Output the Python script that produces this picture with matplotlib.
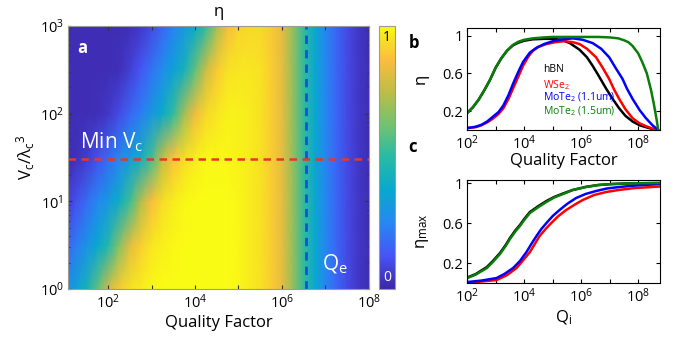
import numpy as np
import matplotlib.pyplot as plt
from matplotlib.colors import LinearSegmentedColormap
from matplotlib.ticker import FixedLocator, LogLocator, NullFormatter

plt.rcParams['font.family'] = ['Open Sans', 'DejaVu Sans']
plt.rcParams['mathtext.fontset'] = 'custom'
plt.rcParams['mathtext.rm'] = 'Open Sans'
plt.rcParams['mathtext.it'] = 'Open Sans:italic'
plt.rcParams['mathtext.bf'] = 'Open Sans:bold'
plt.rcParams['mathtext.default'] = 'regular'

# ---------------------------------------------------
# Data
# ---------------------------------------------------

# heat map a: columns are log10(Q), rows are log10(V)
logq_cols = [1.0, 1.25, 1.5, 1.75, 2.0, 2.25, 2.5, 2.75, 3.0, 3.25, 3.5, 3.75,
             4.0, 4.25, 4.5, 4.75, 5.0, 5.25, 5.5, 5.75, 6.0, 6.25, 6.5, 6.75,
             7.0, 7.25, 7.5, 7.75, 8.0]
logv_rows = [0.0, 0.5, 1.0, 1.5, 2.0, 2.5, 3.0]

eta_v1 = [0.27, 0.35, 0.44, 0.59, 0.78, 0.90, 0.95, 0.97, 0.99, 1.0, 1.0, 1.0,
          1.0, 1.0, 1.0, 1.0, 0.99, 0.97, 0.95, 0.91, 0.83, 0.68, 0.52, 0.38,
          0.25, 0.17, 0.10, 0.05, 0.02]
eta_v3 = [0.15, 0.22, 0.29, 0.37, 0.48, 0.65, 0.82, 0.91, 0.96, 0.98, 0.99, 1.0,
          1.0, 1.0, 1.0, 1.0, 0.99, 0.97, 0.95, 0.91, 0.83, 0.68, 0.52, 0.38,
          0.25, 0.17, 0.10, 0.05, 0.02]
eta_v10 = [0.05, 0.11, 0.18, 0.25, 0.32, 0.40, 0.54, 0.73, 0.87, 0.94, 0.97, 0.99,
           1.0, 1.0, 1.0, 1.0, 0.99, 0.97, 0.95, 0.91, 0.83, 0.68, 0.52, 0.38,
           0.25, 0.17, 0.10, 0.05, 0.02]
eta_v30 = [0.02, 0.03, 0.06, 0.11, 0.18, 0.25, 0.33, 0.41, 0.55, 0.75, 0.88, 0.94,
           0.97, 0.99, 0.99, 0.99, 0.98, 0.97, 0.95, 0.91, 0.83, 0.68, 0.52, 0.38,
           0.25, 0.17, 0.10, 0.05, 0.02]
eta_v100 = [0.02, 0.02, 0.02, 0.03, 0.05, 0.10, 0.17, 0.23, 0.31, 0.39, 0.52, 0.70,
            0.85, 0.93, 0.96, 0.98, 0.98, 0.97, 0.95, 0.91, 0.83, 0.68, 0.52, 0.38,
            0.25, 0.17, 0.10, 0.05, 0.02]
eta_v300 = [0.02, 0.02, 0.02, 0.02, 0.02, 0.03, 0.07, 0.13, 0.20, 0.27, 0.35, 0.44,
            0.59, 0.78, 0.90, 0.95, 0.96, 0.96, 0.95, 0.91, 0.83, 0.68, 0.52, 0.38,
            0.25, 0.17, 0.10, 0.05, 0.02]
eta_v1000 = [0.02, 0.02, 0.02, 0.02, 0.02, 0.02, 0.03, 0.05, 0.10, 0.17, 0.24, 0.31,
             0.39, 0.52, 0.71, 0.86, 0.92, 0.93, 0.93, 0.90, 0.83, 0.68, 0.52, 0.38,
             0.25, 0.17, 0.10, 0.05, 0.02]

q_e = 3.6e6
min_vc = 30

# panel b: efficiency vs quality factor (log10 Q, eta)
hbn_b_logq = [2.0, 2.2, 2.4, 2.6, 2.8, 3.0, 3.2, 3.4, 3.6, 3.8, 4.0, 4.3, 4.7, 5.0,
              5.3, 5.6, 5.94, 6.2, 6.4, 6.6, 6.87, 7.1, 7.33, 7.55, 7.8, 8.05,
              8.27, 8.5, 8.7]
hbn_b = [0.18, 0.24, 0.32, 0.42, 0.53, 0.66, 0.76, 0.84, 0.895, 0.925, 0.945, 0.96,
         0.965, 0.965, 0.955, 0.92, 0.85, 0.77, 0.68, 0.58, 0.44, 0.33, 0.23, 0.15,
         0.09, 0.05, 0.03, 0.01, 0.0]
wse2_b_logq = [2.0, 2.3, 2.5, 2.7, 2.9, 3.1, 3.27, 3.45, 3.61, 3.8, 3.96, 4.15, 4.31,
               4.5, 4.78, 5.1, 5.4, 5.7, 5.94, 6.2, 6.52, 6.75, 6.98, 7.15, 7.33,
               7.55, 7.8, 8.05, 8.27, 8.5, 8.7]
wse2_b = [0.02, 0.03, 0.05, 0.08, 0.12, 0.17, 0.23, 0.33, 0.44, 0.57, 0.68, 0.78,
          0.84, 0.88, 0.91, 0.93, 0.94, 0.93, 0.91, 0.86, 0.77, 0.66, 0.54, 0.43,
          0.33, 0.22, 0.125, 0.07, 0.04, 0.015, 0.0]
mote11_b_logq = [2.0, 2.3, 2.5, 2.7, 2.9, 3.1, 3.27, 3.45, 3.61, 3.8, 3.96, 4.2, 4.43,
                 4.7, 5.0, 5.35, 5.71, 6.05, 6.4, 6.7, 6.98, 7.2, 7.45, 7.6, 7.8,
                 8.05, 8.27, 8.5, 8.7]
mote11_b = [0.02, 0.035, 0.055, 0.09, 0.14, 0.19, 0.26, 0.37, 0.49, 0.62, 0.72, 0.82,
            0.87, 0.91, 0.94, 0.96, 0.97, 0.955, 0.92, 0.86, 0.77, 0.66, 0.54, 0.44,
            0.33, 0.21, 0.125, 0.05, 0.0]
mote15_b_logq = [2.0, 2.2, 2.4, 2.6, 2.8, 3.0, 3.2, 3.4, 3.6, 3.8, 4.0, 4.3, 4.7, 5.0,
                 6.0, 6.6, 7.0, 7.3, 7.5, 7.65, 7.8, 8.0, 8.14, 8.3, 8.45, 8.55,
                 8.65, 8.7]
mote15_b = [0.18, 0.24, 0.32, 0.42, 0.53, 0.66, 0.76, 0.84, 0.90, 0.935, 0.955, 0.97,
            0.98, 0.985, 0.985, 0.985, 0.98, 0.97, 0.95, 0.93, 0.89, 0.81, 0.72, 0.60,
            0.42, 0.27, 0.10, 0.0]

# panel c: maximum efficiency vs intrinsic Q
hbn_c_logq = [2.0, 2.3, 2.69, 2.9, 3.15, 3.35, 3.5, 3.7, 3.85, 4.0, 4.2, 4.5, 4.78,
              5.05, 5.36, 5.7, 6.17, 6.6, 7.1, 7.8, 8.77]
hbn_c = [0.055, 0.09, 0.16, 0.22, 0.30, 0.38, 0.45, 0.53, 0.58, 0.64, 0.71, 0.77,
         0.82, 0.86, 0.895, 0.93, 0.962, 0.98, 0.99, 0.997, 1.0]
wse2_c_logq = [2.0, 2.5, 3.03, 3.4, 3.73, 3.97, 4.2, 4.37, 4.54, 4.75, 4.95, 5.2,
               5.47, 5.75, 6.05, 6.45, 6.87, 7.3, 7.9, 8.77]
wse2_c = [0.0, 0.015, 0.03, 0.08, 0.15, 0.23, 0.31, 0.39, 0.47, 0.54, 0.60, 0.67,
          0.73, 0.78, 0.83, 0.88, 0.91, 0.93, 0.95, 0.965]
mote11_c_logq = [2.0, 2.5, 3.03, 3.3, 3.61, 3.85, 4.08, 4.25, 4.43, 4.6, 4.78, 5.0,
                 5.24, 5.5, 5.82, 6.15, 6.52, 6.9, 7.33, 7.9, 8.77]
mote11_c = [0.01, 0.025, 0.05, 0.09, 0.15, 0.22, 0.31, 0.39, 0.47, 0.54, 0.60, 0.67,
            0.73, 0.79, 0.85, 0.89, 0.92, 0.945, 0.96, 0.975, 0.99]
mote15_c_logq = [2.0, 2.3, 2.69, 2.9, 3.15, 3.35, 3.5, 3.7, 3.85, 4.0, 4.2, 4.5, 4.78,
                 5.05, 5.36, 5.7, 6.17, 6.6, 7.1, 7.8, 8.77]
mote15_c = [0.05, 0.085, 0.15, 0.21, 0.29, 0.37, 0.44, 0.52, 0.57, 0.63, 0.70, 0.76,
            0.81, 0.855, 0.89, 0.93, 0.96, 0.98, 0.99, 0.997, 1.0]

labels = ["hBN", "WSe$_2$", "MoTe$_2$ (1.1um)", "MoTe$_2$ (1.5um)"]
colors = ["black", "#ff0000", "#0000ff", "#0a7d0a"]

# parula-like colour map
parula = LinearSegmentedColormap.from_list("parula", [
    (0.000, (0.2422, 0.1504, 0.6603)),
    (0.125, (0.2780, 0.3300, 0.9650)),
    (0.250, (0.1500, 0.5300, 0.9500)),
    (0.375, (0.0300, 0.6600, 0.8100)),
    (0.500, (0.1500, 0.7300, 0.6500)),
    (0.625, (0.4500, 0.7600, 0.4400)),
    (0.750, (0.7400, 0.7400, 0.2800)),
    (0.875, (0.9900, 0.7400, 0.2400)),
    (0.940, (0.9700, 0.8600, 0.1600)),
    (1.000, (0.9769, 0.9839, 0.0805)),
])

# ---------------------------------------------------
# Figure
# ---------------------------------------------------

fig = plt.figure(figsize=(6.87, 3.39), dpi=100)

ax = fig.add_axes([0.099, 0.1475, 0.438, 0.776])
cax = fig.add_axes([0.5517, 0.1475, 0.0233, 0.776])
axb = fig.add_axes([0.680, 0.6165, 0.281, 0.301])
axc = fig.add_axes([0.680, 0.165, 0.281, 0.304])

# ---------------------------------------------------
# Panel a: heat map
# ---------------------------------------------------

Q = 10.0 ** np.array(logq_cols)
V = 10.0 ** np.array(logv_rows)
eta = np.array([eta_v1, eta_v3, eta_v10, eta_v30, eta_v100, eta_v300, eta_v1000])

ax.set_xscale("log")
ax.set_yscale("log")
mesh = ax.pcolormesh(Q, V, eta, shading="gouraud", cmap=parula, vmin=0, vmax=1,
                     rasterized=True)
ax.set_xlim(12, 1e8)
ax.set_ylim(1, 1e3)

ax.axvline(q_e, color="#1a4fd6", lw=2, ls=(0, (3, 2.2)))
ax.axhline(min_vc, color="#e8362a", lw=1.8, ls=(0, (3, 2.2)))

ax.xaxis.set_major_locator(FixedLocator([1e2, 1e3, 1e4, 1e5, 1e6, 1e7, 1e8]))
ax.set_xticklabels(["$10^{2}$", "", "$10^{4}$", "", "$10^{6}$", "", "$10^{8}$"])
ax.xaxis.set_minor_locator(FixedLocator([]))
ax.yaxis.set_major_locator(FixedLocator([1, 10, 100, 1000]))
ax.set_yticklabels(["$10^{0}$", "$10^{1}$", "$10^{2}$", "$10^{3}$"])
ax.yaxis.set_minor_locator(LogLocator(base=10, subs=np.arange(2, 10)))
ax.yaxis.set_minor_formatter(NullFormatter())
ax.tick_params(which="both", direction="in", top=True, right=True,
               labelsize=10.5, color="#333333", pad=3)
ax.tick_params(which="major", length=3)
ax.tick_params(which="minor", length=1.5)
for s in ax.spines.values():
    s.set_color("#9a9a9a")
    s.set_linewidth(0.8)

ax.set_xlabel("Quality Factor", fontsize=12, labelpad=2)
ax.set_ylabel("V$_{c}$/λ$_{c}$$^{3}$", fontsize=12, labelpad=2)
ax.set_title("η", fontsize=12, pad=7)

ax.text(0.03, 0.95, "a", transform=ax.transAxes, color="white",
        fontsize=12, fontweight="bold", va="top", ha="left")
ax.text(0.04, 0.515, "Min V$_{c}$", transform=ax.transAxes, color="white",
        fontsize=15, va="bottom", ha="left")
ax.text(0.845, 0.05, "Q$_{e}$", transform=ax.transAxes, color="white",
        fontsize=15, va="bottom", ha="left")

cb = fig.colorbar(mesh, cax=cax)
cb.set_ticks([])
cb.outline.set_edgecolor("#9a9a9a")
cb.outline.set_linewidth(0.8)
cax.text(0.5, 0.985, "1", transform=cax.transAxes, ha="center", va="top",
         fontsize=10, color="black")
cax.text(0.5, 0.015, "0", transform=cax.transAxes, ha="center", va="bottom",
         fontsize=10, color="white")

# ---------------------------------------------------
# Panels b and c
# ---------------------------------------------------

b_series = [(hbn_b_logq, hbn_b), (wse2_b_logq, wse2_b),
            (mote11_b_logq, mote11_b), (mote15_b_logq, mote15_b)]
c_series = [(hbn_c_logq, hbn_c), (wse2_c_logq, wse2_c),
            (mote11_c_logq, mote11_c), (mote15_c_logq, mote15_c)]

for axis, series, top in [(axb, b_series, 1.08), (axc, c_series, 1.03)]:
    for (lq, vals), col in zip(series, colors):
        axis.plot(10.0 ** np.array(lq), vals, color=col, lw=1.8,
                  solid_capstyle="round", solid_joinstyle="round")
    axis.set_xscale("log")
    axis.set_xlim(1e2, 10 ** 8.77)
    axis.set_ylim(0, top)
    axis.set_yticks([0.2, 0.6, 1.0])
    axis.set_yticklabels(["0.2", "0.6", "1"])
    axis.xaxis.set_major_locator(FixedLocator([1e2, 1e3, 1e4, 1e5, 1e6, 1e7, 1e8]))
    axis.set_xticklabels(["$10^{2}$", "", "$10^{4}$", "", "$10^{6}$", "", "$10^{8}$"])
    axis.xaxis.set_minor_locator(LogLocator(base=10, subs=np.arange(2, 10)))
    axis.xaxis.set_minor_formatter(NullFormatter())
    axis.tick_params(which="both", direction="in", top=True, right=True,
                     labelsize=10.5, pad=3)
    axis.tick_params(which="major", length=3)
    axis.tick_params(which="minor", length=1.5)
    for s in axis.spines.values():
        s.set_linewidth(0.8)

axb.set_xlabel("Quality Factor", fontsize=12, labelpad=0)
axb.set_ylabel("η", fontsize=12, labelpad=10)
axc.set_xlabel("Q$_{i}$", fontsize=12, labelpad=2)
axc.set_ylabel("η$_{max}$", fontsize=12, labelpad=8)

for i, (txt, col) in enumerate(zip(labels, colors)):
    axb.text(0.394, [0.596, 0.442, 0.317, 0.183][i], txt, color=col,
             fontsize=7.5, transform=axb.transAxes, va="center", ha="left")

fig.text(0.603, 0.873, "b", fontsize=12, fontweight="bold", va="center", ha="center")
fig.text(0.601, 0.566, "c", fontsize=12, fontweight="bold", va="center", ha="center")

fig.savefig("out.png", dpi=100)
